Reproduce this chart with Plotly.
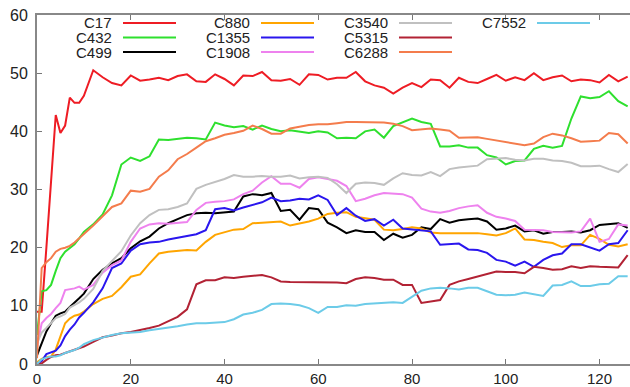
import plotly.graph_objects as go

X = list(range(0, 11)) + list(range(12, 127, 2))

NAMES = ["C17", "C432", "C499", "C880", "C1355", "C1908", "C3540", "C5315", "C6288", "C7552"]
COLORS = ["#ee1c24", "#2ee02e", "#000000", "#ffa500", "#2a16ee", "#ee82ee", "#c0c0c0", "#b22234", "#f47c4c", "#6ccbe8"]

C17 = [9, 9, 20, 32, 42.8, 39.7, 41, 45.8, 44.9, 44.9, 46.1,
       50.5, 49.3, 48.3, 47.9, 49.6, 48.7, 48.9, 49.2, 48.8, 49.5, 49.8, 48.6, 48.5, 49.8, 49.0,
       47.9, 49.6, 49.5, 50.2, 48.8, 48.7, 49.0, 48.0, 49.8, 49.7, 48.9, 49.2, 49.2, 50.2, 48.6,
       47.9, 47.5, 46.5, 47.5, 48.3, 47.6, 48.9, 48.8, 47.5, 49.2, 48.5, 48.3, 49.0, 49.7, 48.7,
       49.3, 48.8, 50.0, 48.8, 49.3, 49.6, 48.6, 48.9, 48.8, 48.4, 49.7, 48.6, 49.4]
C432 = [5, 12.5, 12.7, 13.6, 16, 18.2, 19.3, 20, 20.6, 21.6, 22.7,
        24, 25.7, 29, 34.3, 35.5, 34.9, 35.7, 38.6, 38.5, 38.7, 38.9, 38.8, 38.6, 41.5, 41,
        40.7, 40.9, 40.3, 41, 40.4, 40, 40.2, 40, 39.7, 40, 39.8, 38.8, 38.9, 38.8, 40,
        40.3, 38.9, 40.9, 41.5, 42.2, 41.6, 41.3, 37.4, 37.4, 37.6, 37.2, 37.2, 35.9, 35.5, 34.3,
        34.9, 35, 37, 37.5, 37.2, 37.5, 42.2, 46, 45.7, 45.9, 46.9, 45.2, 44.3]
C499 = [1.5, 3.7, 5.6, 7, 8.3, 8.7, 9, 9.8, 10.5, 11.3, 12.1,
        14.6, 16.2, 17.3, 18.2, 19.9, 21.1, 21.9, 23.3, 24.2, 24.9, 25.6, 25.9, 26, 25.9, 26,
        26.2, 28.8, 29.2, 29, 29.4, 26.3, 26.5, 24.8, 26.8, 26.6, 24.3, 23.5, 22.5, 23, 22.7,
        22.7, 21.3, 22.4, 21.7, 22.2, 23.5, 23.2, 24.9, 24.3, 24.7, 24.9, 25, 24.5, 23.1, 23.3,
        23.8, 22.8, 23, 22.4, 22.7, 22.7, 22.8, 22.6, 23, 23.9, 24, 24.2, 23.4]
C880 = [0.3, 0.9, 1.2, 1.3, 2.5, 4.8, 7, 7.8, 8.3, 8.5, 9,
        10.3, 11.2, 11.7, 13.2, 15, 15.4, 17.3, 19, 19.3, 19.5, 19.6, 19.5, 21, 22.2, 22.6,
        23.1, 23.2, 24.2, 24.3, 24.4, 24.5, 23.8, 24.1, 24.5, 25, 25.8, 26, 26.1, 25.3, 25,
        24.8, 23.1, 23, 23.2, 23.5, 23.3, 22.6, 22.5, 22.5, 22.5, 22.4, 22.5, 22.3, 22.1, 22.5,
        23.3, 21.4, 21.3, 21, 20.8, 20.1, 20.4, 20.4, 22.2, 21.5, 20.5, 20.2, 20.6]
C1355 = [0, 0.5, 1.7, 2, 2.3, 3.2, 4.8, 5.9, 6.8, 8, 8.8,
         10.6, 13, 16.5, 17.3, 19.5, 20.6, 20.9, 21, 21.4, 21.7, 22.1, 22.3, 23, 26.6, 26.8,
         26.4, 26.9, 27.3, 27.8, 28.6, 28, 28.1, 28.4, 28.3, 29, 28.2, 25.6, 26.8, 25.5, 24.6,
         24.9, 23.8, 24.8, 23.3, 23.1, 23, 22.8, 20.5, 20.6, 20.7, 19.7, 19.6, 19.1, 17.9, 17.6,
         16.9, 17.6, 16.7, 17.9, 18.7, 19, 20.6, 20.6, 20, 19.5, 20.6, 20.8, 23]
C1908 = [3, 7, 7.9, 8.6, 9.6, 10.5, 12.7, 12.8, 13, 13.3, 12.8,
         13.6, 15.7, 17, 17.8, 21, 23.3, 24, 24.2, 24.1, 24.2, 24.4, 26.5, 27.7, 27.9, 28,
         28.3, 29.2, 29.8, 31.2, 32.3, 31, 31, 30.3, 31.8, 32.1, 31.8, 31.5, 30.6, 28, 28.4,
         29, 29.4, 29.3, 29.2, 28.6, 26.7, 26.2, 26, 26.3, 26.8, 27.1, 27.3, 26, 25.3, 25,
         24.6, 23.1, 23, 23, 22.7, 22.6, 22.6, 22.8, 25, 21, 21.5, 24, 23.8]
C3540 = [3.6, 5.4, 6.2, 7.1, 7.9, 8.2, 8.6, 9.7, 10.1, 10.6, 11.2,
         12.9, 16, 17.7, 19.4, 22.1, 24.2, 25.6, 26.5, 26.6, 27, 27.6, 30.1, 30.8, 31.3, 31.8,
         32.5, 32.2, 32.2, 32.3, 32.2, 32.2, 32.4, 31.9, 32.1, 32.2, 32, 30.9, 29.4, 31, 31.2,
         31.1, 30.8, 31.9, 32.8, 32.5, 32.4, 33, 32.3, 33.5, 33.8, 33.9, 34.1, 35.2, 35.3, 35.4,
         35.1, 35, 35.3, 35.3, 35, 34.9, 34.6, 34, 34, 34.1, 33.5, 33, 34.4]
C5315 = [0, 0.1, 0.7, 1.2, 1.5, 1.6, 1.9, 2.2, 2.4, 2.7, 3,
         3.8, 4.6, 4.9, 5.3, 5.5, 5.8, 6.2, 6.6, 7.3, 8.1, 9.4, 13.7, 14.4, 14.4, 14.9,
         14.8, 15, 15.1, 15.3, 14.9, 14.2, 14.1, 14.1, 14, 14, 14.1, 14, 13.9, 14.6, 14.9,
         14.8, 14.5, 14.5, 13.6, 13.6, 10.5, 10.8, 11, 13.6, 14.2, 14.6, 15, 15.4, 15.9, 15.8,
         15.8, 15.6, 16.7, 16.5, 16.2, 16.3, 16.8, 16.5, 16.8, 16.7, 16.6, 16.6, 18.7]
C6288 = [1, 16.5, 17.5, 18.2, 19.3, 19.8, 20, 20.3, 20.9, 21.6, 22.3,
         23.8, 25.4, 27, 27.6, 29.8, 29.6, 30.1, 32.2, 33.3, 35.2, 36.1, 37.2, 38.3, 38.8, 39.4,
         39.7, 40.1, 41, 40.4, 39.6, 39.6, 40.5, 40.8, 41.1, 41.2, 41.2, 41.4, 41.6, 41.6, 41.6,
         41.6, 41.5, 41.3, 40.9, 40.2, 40.3, 40.5, 40.3, 40.1, 38.9, 38.9, 39, 38.7, 38.4, 38.2,
         37.8, 37.6, 37.9, 39, 39.6, 39.3, 38.8, 38.2, 38.3, 38.4, 39.7, 39.5, 37.9]
C7552 = [0, 0.8, 1.1, 1.3, 1.3, 1.5, 1.9, 2.1, 2.4, 2.8, 3.4,
         4.1, 4.6, 5, 5.3, 5.4, 5.5, 5.8, 6, 6.3, 6.5, 6.8, 7, 7, 7.1, 7.2,
         7.7, 8.5, 8.8, 9.3, 10.3, 10.4, 10.3, 10.1, 9.6, 8.8, 9.8, 9.8, 10.1, 10, 10.3,
         10.4, 10.4, 10.6, 10.5, 11.5, 12.6, 13, 13.1, 13, 12.8, 13.1, 13.1, 12.5, 11.9, 11.8,
         11.9, 12.3, 12, 11.7, 13.5, 13.6, 14.2, 13.4, 13.4, 13.7, 13.8, 15.1, 15.1]

SERIES = [C17, C432, C499, C880, C1355, C1908, C3540, C5315, C6288, C7552]

XTICKS = [0, 20, 40, 60, 80, 100, 120]
YTICKS = [0, 10, 20, 30, 40, 50, 60]

W, H = 630, 387
ML, MR, MT, MB = 37, 0, 15, 23
PW, PH = W - ML - MR, H - MT - MB

fig = go.Figure()
for name, ys, col in zip(NAMES, SERIES, COLORS):
    fig.add_trace(go.Scatter(x=X, y=ys, mode="lines", name=name,
                             line=dict(color=col, width=2), showlegend=False))

# gnuplot-style key: label right-aligned, sample line to its right
annotations = []
shapes = []
for i, (name, col) in enumerate(zip(NAMES, COLORS)):
    c, r = i // 3, i % 3
    lab_right = 113 + c * 138
    ly = 23 + r * 14.5
    py = (H - MB - ly) / PH
    annotations.append(dict(x=(lab_right - ML) / PW, y=py, xref="paper", yref="paper",
                            text=name, showarrow=False, xanchor="right", yanchor="middle",
                            borderpad=0,
                            font=dict(size=15, color="#222", family="Liberation Sans, Arial")))
    shapes.append(dict(type="line", xref="paper", yref="paper",
                       x0=(lab_right + 10 - ML) / PW, x1=(lab_right + 63 - ML) / PW,
                       y0=py, y1=py, line=dict(color=col, width=2)))

fig.update_layout(
    width=W, height=H,
    margin=dict(l=ML, r=MR, t=MT, b=MB, autoexpand=False),
    paper_bgcolor="white", plot_bgcolor="white",
    annotations=annotations, shapes=shapes,
    font=dict(family="Liberation Sans, Arial", size=15, color="#222"),
)
fig.update_xaxes(range=[0, 126.5], tickvals=XTICKS, ticks="inside", ticklen=5, tickwidth=1,
                 tickcolor="#777", showline=True, linecolor="#888", linewidth=2, mirror="ticks",
                 showgrid=False, zeroline=False, automargin=False, tickfont=dict(size=15))
fig.update_yaxes(range=[0, 60], tickvals=YTICKS, ticks="inside", ticklen=5, tickwidth=1,
                 tickcolor="#777", showline=True, linecolor="#888", linewidth=2, mirror=False,
                 showgrid=False, zeroline=False, automargin=False, ticklabelstandoff=4,
                 tickfont=dict(size=16))

fig.write_html("out.html", config={"displayModeBar": False},
               post_script="document.body.style.margin='0';document.body.style.overflow='hidden';")
